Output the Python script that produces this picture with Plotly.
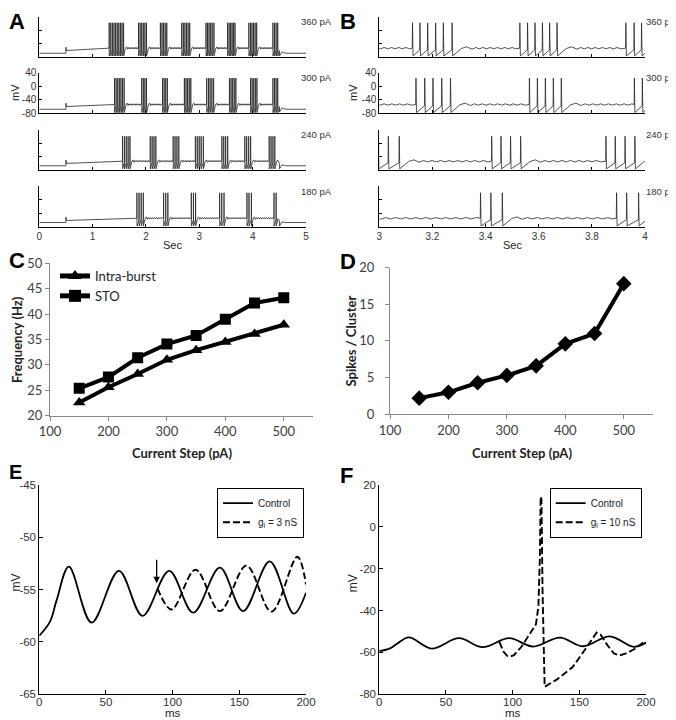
import plotly.graph_objects as go

W, H = 676, 720
OFF = 8  # the page body margin shifts the figure by this many pixels

# ---------------- data ----------------
step_labels = ["360 pA", "300 pA", "240 pA", "180 pA"]

spikes_360 = [1.31, 1.34, 1.37, 1.40, 1.43, 1.46, 1.49, 1.52, 1.55, 1.58,
              1.86, 1.89, 1.92, 1.95, 1.98, 2.01,
              2.27, 2.30, 2.33, 2.36, 2.39,
              2.67, 2.70, 2.73, 2.76, 2.79, 2.82,
              3.125, 3.153, 3.182, 3.212, 3.241, 3.274,
              3.529, 3.558, 3.586, 3.614, 3.641, 3.669,
              3.928, 3.959, 3.987, 4.016, 4.045, 4.075,
              4.38, 4.41, 4.44, 4.47]
spikes_300 = [1.41, 1.44, 1.47, 1.50, 1.53, 1.56, 1.59,
              1.92, 1.95, 1.98, 2.01,
              2.31, 2.34, 2.37, 2.40,
              2.72, 2.75, 2.78, 2.81, 2.84,
              3.138, 3.171, 3.202, 3.235, 3.268,
              3.565, 3.595, 3.625, 3.655, 3.685,
              3.96, 3.99, 4.02, 4.05, 4.08,
              4.38, 4.41, 4.44, 4.47]
spikes_240 = [1.56, 1.595, 1.63, 1.665, 1.70,
              2.08, 2.115, 2.15, 2.185,
              2.51, 2.545, 2.58, 2.615,
              2.926, 2.961, 2.997, 3.034, 3.075,
              3.423, 3.458, 3.494, 3.532,
              3.853, 3.888, 3.925, 3.962,
              4.31, 4.345, 4.38, 4.415]
spikes_180 = [1.83, 1.87, 1.91, 1.95,
              2.33, 2.37, 2.41,
              2.85, 2.89, 2.93,
              3.381, 3.42, 3.463,
              3.893, 3.931, 3.976,
              4.40, 4.44]
spike_times = [spikes_360, spikes_300, spikes_240, spikes_180]

sto_hz = [36.5, 34.1, 31.0, 26.5]          # subthreshold oscillation frequency per step
rest_mv = [-68, -68, -67, -66]
plateau_mv = [-53, -54, -53.5, -53.5]
peak_mv = [22, 24, 20, 21]
ahp_mv = [-76, -78, -76, -76]
THRESH = -58
STEP_ON, STEP_OFF = 0.5, 4.5
STEP_ARTIFACT, STEP_BASE = -50, -60
REB_DT = [0.035, 0.055, 0.075]
REB_DV = [-1, 4, -3]
STO_AMP = 2.0

# Panel C / D
current_steps = [150, 200, 250, 300, 350, 400, 450, 500]
intra_burst_hz = [22.6, 25.6, 28.2, 31.0, 32.9, 34.5, 36.1, 37.9]
sto_freq_hz = [25.4, 27.6, 31.4, 34.1, 35.8, 39.0, 42.2, 43.2]
spikes_per_cluster = [2.2, 3.0, 4.3, 5.3, 6.6, 9.6, 11.0, 17.8]

# Panel E / F
ctrl_t = [0, 8, 13, 22.2, 39.2, 59.7, 77.4, 97.4, 115.4, 135.4, 152.8, 172.8, 190.8, 200]
ctrl_v = [-59.4, -58.05, -56.0, -52.8, -58.15, -53.2, -57.5, -53.2, -57.2, -52.9, -57.05, -52.3, -57.3, -55.3]
gl3_t = [88.7, 99.2, 117.2, 135.4, 155.3, 174.1, 193.5, 200]
gl3_v = [-54.9, -56.9, -53.1, -57.05, -52.7, -57.1, -51.85, -54.5]
gl10_t = [90, 93, 96, 98, 101, 106.6, 112, 117.5, 119.3, 120.4, 121, 121.6, 122.4, 123.2, 124,
          133, 145, 155, 160, 163, 166, 171, 176, 180, 185, 191, 198.5]
gl10_v = [-55, -59.5, -61.7, -62, -61.3, -57.3, -52, -46.5, -38, -15, 14.5, 13, -30, -65, -76.4,
          -73, -67, -58, -53, -50.5, -51.5, -56.5, -60.5, -61.5, -60.5, -58.5, -55]

A_xticks = [0, 1, 2, 3, 4, 5]
B_xticks = [3, 3.2, 3.4, 3.6, 3.8, 4]
AB_yticks = [-80, -40, 0, 40]
E_yticks = [-65, -60, -55, -50, -45]
F_yticks = [-80, -60, -40, -20, 0, 20]
EF_xticks = [0, 50, 100, 150, 200]


def build_trace(spk, rest, plateau, peak, ahp, hz):
    bursts = []
    for s in spk:
        if bursts and s - bursts[-1][-1] < 0.1:
            bursts[-1].append(s)
        else:
            bursts.append([s])
    t = [0.0, STEP_ON, STEP_ON, STEP_ON + 0.004]
    v = [rest, rest, STEP_ARTIFACT, STEP_BASE]
    half = 0.5 / hz
    for i, b in enumerate(bursts):
        for k, s in enumerate(b):
            t += [s - 0.001, s, s + 0.002]
            v += [plateau if k == 0 else THRESH, peak, ahp]
        last = b[-1]
        nxt = bursts[i + 1][0] if i + 1 < len(bursts) else STEP_OFF
        end = nxt - 0.008
        for dt, dv in zip(REB_DT, REB_DV):
            if last + dt < end:
                t.append(last + dt)
                v.append(plateau + dv)
        tw = last + REB_DT[-1] + half
        sign = 1
        while tw < end:
            t.append(tw)
            v.append(plateau + sign * STO_AMP)
            sign = -sign
            tw += half
    t += [STEP_OFF, STEP_OFF + 0.004, STEP_OFF + 0.05, STEP_OFF + 0.12, 5.0]
    v += [THRESH - 2, -76, -64, rest, rest]
    return t, v


def fx(p):
    return (p - OFF) / W


def fy(p):
    return 1 - (p - OFF) / H


def key(kind, i):
    return f"{kind}axis" + ("" if i == 1 else str(i))


def ref(kind, i):
    return kind + ("" if i == 1 else str(i))


def tick_text(vals):
    return [f"{x:g}" for x in vals]


ARIAL = "Liberation Sans, Arial, sans-serif"
LATO = "Lato, Open Sans, sans-serif"

fig = go.Figure()
layout_axes = {}

rows = [(16.7, 57.3), (72.7, 113.3), (129.5, 170.2), (186.3, 227.3)]
A_x = (39.3, 306.0)
B_x = (379.3, 645.0)

annotations = []

for r in range(4):
    t, v = build_trace(spike_times[r], rest_mv[r], plateau_mv[r], peak_mv[r], ahp_mv[r], sto_hz[r])
    for p, (xd, xr, xt) in enumerate([(A_x, [0, 5], A_xticks), (B_x, [3, 4], B_xticks)]):
        i = r + 1 + 4 * p
        fig.add_trace(go.Scatter(x=t, y=v, mode="lines", line=dict(color="#262626", width=0.8),
                                 xaxis=ref("x", i), yaxis=ref("y", i), showlegend=False,
                                 hoverinfo="skip"))
        layout_axes[key("x", i)] = dict(
            domain=[fx(xd[0]), fx(xd[1])], anchor=ref("y", i), range=xr, automargin=False,
            showline=True, linecolor="black", linewidth=1, ticks="inside", ticklen=3,
            tickcolor="black", tickvals=xt, ticktext=tick_text(xt),
            showticklabels=(r == 3), showgrid=False, zeroline=False,
            tickfont=dict(family=ARIAL, size=10, color="#333"))
        layout_axes[key("y", i)] = dict(
            domain=[fy(rows[r][1]), fy(rows[r][0])], anchor=ref("x", i), range=[-80, 40],
            automargin=False,
            showline=True, linecolor="black", linewidth=1, ticks="inside", ticklen=3,
            tickcolor="black", tickvals=AB_yticks, ticktext=tick_text(AB_yticks),
            showticklabels=(r == 1), showgrid=False, zeroline=False,
            tickfont=dict(family=ARIAL, size=10, color="#333"))
        lx = 298.5 if p == 0 else 644
        annotations.append(dict(text=step_labels[r], x=fx(lx), y=fy(rows[r][0] + 5),
                                xref="paper", yref="paper", xanchor="left", yanchor="middle",
                                showarrow=False, font=dict(family=ARIAL, size=9.5, color="#333")))

# ---- Panel C ----
fig.add_trace(go.Scatter(x=current_steps, y=intra_burst_hz, mode="lines+markers", name="Intra-burst",
                         line=dict(color="black", width=4),
                         marker=dict(symbol="triangle-up", size=11, color="black"),
                         xaxis="x9", yaxis="y9", legend="legend"))
fig.add_trace(go.Scatter(x=current_steps, y=sto_freq_hz, mode="lines+markers", name="STO",
                         line=dict(color="black", width=4),
                         marker=dict(symbol="square", size=11, color="black"),
                         xaxis="x9", yaxis="y9", legend="legend"))
# ---- Panel D ----
fig.add_trace(go.Scatter(x=current_steps, y=spikes_per_cluster, mode="lines+markers",
                         line=dict(color="black", width=4),
                         marker=dict(symbol="diamond", size=12, color="black"),
                         xaxis="x10", yaxis="y10", showlegend=False))

excel_x = dict(range=[100, 550], tickvals=[100, 200, 300, 400, 500], ticktext=tick_text([100, 200, 300, 400, 500]),
               ticks="outside", ticklen=4, automargin=False,
               tickcolor="#888", showline=True, linecolor="#888", linewidth=1.3, showgrid=False,
               zeroline=False, tickfont=dict(family=LATO, size=13, color="#404040"))
layout_axes["xaxis9"] = dict(domain=[fx(50), fx(313)], anchor="y9", **excel_x)
layout_axes["yaxis9"] = dict(domain=[fy(415.7), fy(263.3)], anchor="x9", range=[20, 50],
                             tickvals=[20, 25, 30, 35, 40, 45, 50], automargin=False,
                             ticks="outside", ticklen=4, tickcolor="#888", showline=True,
                             linecolor="#888", linewidth=1.3, showgrid=False, zeroline=False,
                             tickfont=dict(family=LATO, size=13, color="#404040"))
layout_axes["xaxis10"] = dict(domain=[fx(390), fx(653)], anchor="y10", **excel_x)
layout_axes["yaxis10"] = dict(domain=[fy(414.3), fy(267.5)], anchor="x10", range=[0, 20],
                              tickvals=[0, 5, 10, 15, 20], automargin=False,
                              ticks="outside", ticklen=4, tickcolor="#888", showline=True,
                              linecolor="#888", linewidth=1.3, showgrid=False, zeroline=False,
                              ticklabelstandoff=8,
                              tickfont=dict(family=LATO, size=13, color="#404040"))

# ---- Panel E / F ----
for i, (xd, yr, yt, dt, dv, dname, lg) in enumerate([
        ((39.3, 306), [-65, -45], E_yticks, gl3_t, gl3_v, "g<sub>l</sub> = 3 nS", "legend2"),
        ((379.3, 646), [-80, 20], F_yticks, gl10_t, gl10_v, "g<sub>l</sub> = 10 nS", "legend3")]):
    n = 11 + i
    fig.add_trace(go.Scatter(x=ctrl_t, y=ctrl_v, mode="lines", name="Control",
                             line=dict(color="black", width=1.8, shape="spline", smoothing=1),
                             xaxis=f"x{n}", yaxis=f"y{n}", legend=lg))
    fig.add_trace(go.Scatter(x=dt, y=dv, mode="lines", name=dname,
                             line=dict(color="black", width=1.9, dash="7px,3px",
                                       shape="spline" if i == 0 else "linear", smoothing=1),
                             xaxis=f"x{n}", yaxis=f"y{n}", legend=lg))
    layout_axes[f"xaxis{n}"] = dict(domain=[fx(xd[0]), fx(xd[1])], anchor=f"y{n}", range=[0, 200],
                                    tickvals=EF_xticks, ticktext=tick_text(EF_xticks),
                                    ticks="inside", ticklen=4, automargin=False,
                                    tickcolor="black", showline=True, linecolor="black", linewidth=1,
                                    showgrid=False, zeroline=False, ticklabelstandoff=-3,
                                    tickfont=dict(family=ARIAL, size=11.5, color="#333"))
    layout_axes[f"yaxis{n}"] = dict(domain=[fy(694.3), fy(485)], anchor=f"x{n}", range=yr,
                                    tickvals=yt, ticktext=tick_text(yt), automargin=False,
                                    ticks="inside", ticklen=4, tickcolor="black",
                                    showline=True, linecolor="black", linewidth=1, showgrid=False,
                                    zeroline=False, tickfont=dict(family=ARIAL, size=11.5, color="#333"))

# ---- text annotations ----
for txt, x, y, anc, vanc, size in [("A", 8, 8, "left", "top", 22), ("B", 348, 8, "center", "top", 22),
                                   ("C", 8, 261, "left", "middle", 22),
                                   ("D", 347.5, 261.5, "center", "middle", 22),
                                   ("E", 8, 472, "left", "middle", 20),
                                   ("F", 347, 475, "center", "middle", 22)]:
    annotations.append(dict(text=f"<b>{txt}</b>", x=fx(x), y=fy(y), xref="paper", yref="paper",
                            showarrow=False, xanchor=anc, yanchor=vanc, borderpad=0,
                            font=dict(family=ARIAL, size=size, color="black")))

for txt, x, y, ang, fam, size, bold in [
        ("mV", 15, 93, -90, ARIAL, 11, False), ("mV", 353, 93, -90, ARIAL, 11, False),
        ("Sec", 172.7, 245, 0, ARIAL, 11, False), ("Sec", 512, 245, 0, ARIAL, 11, False),
        ("Frequency (Hz)", 16.5, 339.5, -90, LATO, 13, True),
        ("Current Step (pA)", 181.5, 453.3, 0, LATO, 13, True),
        ("Spikes / Cluster", 350.5, 341, -90, LATO, 13, True),
        ("Current Step (pA)", 521.5, 453.3, 0, LATO, 13, True),
        ("mV", 15.5, 583, -90, ARIAL, 12, False), ("ms", 172.7, 713, 0, ARIAL, 11.5, False),
        ("mV", 353.3, 583, -90, ARIAL, 12, False), ("ms", 512.7, 713, 0, ARIAL, 11.5, False)]:
    annotations.append(dict(text=f"<b>{txt}</b>" if bold else txt, x=fx(x), y=fy(y),
                            xref="paper", yref="paper", showarrow=False, textangle=ang,
                            xanchor="center", yanchor="middle", borderpad=0,
                            font=dict(family=fam, size=size, color="#222")))

# arrow in E
annotations.append(dict(x=88, y=-54.4, ax=88, ay=-52.0, xref="x11", yref="y11", axref="x11", ayref="y11",
                        showarrow=True, arrowhead=2, arrowsize=1, arrowwidth=1.3, arrowcolor="black",
                        text=""))

fig.update_layout(
    template="none",
    width=W, height=H, margin=dict(l=0, r=0, t=0, b=0, autoexpand=False),
    paper_bgcolor="white", plot_bgcolor="white",
    annotations=annotations,
    legend=dict(x=fx(55), y=fy(261), xanchor="left", yanchor="top", bgcolor="rgba(0,0,0,0)",
                font=dict(family=LATO, size=13, color="#222"), tracegroupgap=0, itemsizing="constant"),
    legend2=dict(x=fx(304), y=fy(487.7), xanchor="right", yanchor="top", bgcolor="white",
                 bordercolor="black", borderwidth=1, font=dict(family=ARIAL, size=10, color="#222")),
    legend3=dict(x=fx(641.7), y=fy(487.7), xanchor="right", yanchor="top", bgcolor="white",
                 bordercolor="black", borderwidth=1, font=dict(family=ARIAL, size=10, color="#222")),
    **layout_axes,
)

fig.write_html("out.html")
